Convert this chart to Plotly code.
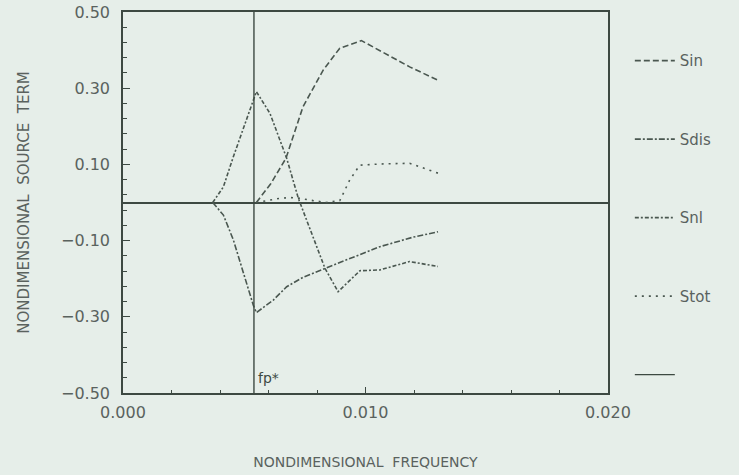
import plotly.graph_objects as go

# Nondimensional source terms vs nondimensional frequency
fp = 0.0054

sin_f = [0.0055, 0.0061, 0.00672, 0.00742, 0.00826, 0.00894, 0.00983, 0.01182, 0.01299]
sin_v = [0.000, 0.050, 0.116, 0.251, 0.348, 0.405, 0.425, 0.356, 0.321]

sdis_f = [0.0037, 0.00414, 0.00455, 0.00496, 0.00537, 0.0055, 0.0062, 0.00675, 0.00743, 0.00833, 0.01059, 0.01196, 0.01299]
sdis_v = [0.000, -0.033, -0.098, -0.186, -0.269, -0.289, -0.256, -0.221, -0.196, -0.173, -0.116, -0.091, -0.077]

snl_f = [0.0037, 0.00414, 0.00455, 0.00503, 0.0055, 0.00606, 0.00675, 0.00723, 0.00833, 0.00887, 0.00977, 0.01059, 0.01182, 0.01299]
snl_v = [0.000, 0.041, 0.120, 0.208, 0.291, 0.234, 0.116, 0.011, -0.173, -0.234, -0.179, -0.177, -0.155, -0.168]

stot_f = [0.0055, 0.00647, 0.00688, 0.00729, 0.00784, 0.00839, 0.00894, 0.00935, 0.00976, 0.01059, 0.01182, 0.01299]
stot_v = [0.000, 0.011, 0.013, 0.011, 0.005, 0.000, 0.005, 0.059, 0.098, 0.101, 0.103, 0.077]

x_ticks = [0.0, 0.010, 0.020]
x_tick_text = ["0.000", "0.010", "0.020"]
y_ticks = [-0.5, -0.3, -0.1, 0.1, 0.3, 0.5]
y_tick_text = ["\u22120.50", "\u22120.30", "\u22120.10", "0.10", "0.30", "0.50"]

BG = "#e6eee9"
INK = "#4a5750"
AXIS = "#3d4942"
TEXT = "#5a625e"
FONT = "DejaVu Sans"
SP = "\u00a0\u00a0"

fig = go.Figure()

series = [
    ("Sin", sin_f, sin_v, "6px,3px"),
    ("Sdis", sdis_f, sdis_v, "6px,2px,2px,2px"),
    ("Snl", snl_f, snl_v, "4px,2px,2px,2px"),
    ("Stot", stot_f, stot_v, "2px,5px"),
]
for name, f, v, dash in series:
    fig.add_trace(go.Scatter(
        x=f, y=v, name=name, mode="lines",
        line=dict(color=INK, width=1.6, dash=dash),
        legendgroup=name,
    ))

# peak frequency marker line
fig.add_trace(go.Scatter(
    x=[fp, fp], y=[-0.5, 0.5], name="", mode="lines",
    line=dict(color=AXIS, width=1.4), legendgroup="fp",
))

fig.add_annotation(
    x=fp, y=-0.5, xref="x", yref="y", text="fp*", showarrow=False,
    xanchor="left", yanchor="bottom", xshift=2, yshift=5,
    font=dict(family=FONT, size=14, color=AXIS),
)

fig.update_layout(
    width=739, height=475,
    margin=dict(l=123, r=131, t=12, b=82, autoexpand=False),
    paper_bgcolor=BG, plot_bgcolor=BG,
    font=dict(family=FONT, color=TEXT, size=14),
    legend=dict(
        x=1.045, y=0.915, xanchor="left", yanchor="top",
        bgcolor="rgba(0,0,0,0)", tracegroupgap=56,
        traceorder="grouped", itemwidth=40,
        font=dict(family=FONT, size=15, color=TEXT),
    ),
    xaxis=dict(
        range=[0, 0.020], tickvals=x_ticks, ticktext=x_tick_text,
        ticks="inside", ticklen=6, tickcolor=AXIS, tickwidth=1.2,
        minor=dict(dtick=0.002, tick0=0, ticks="inside", ticklen=3, tickcolor=AXIS),
        showline=True, linecolor=AXIS, linewidth=1.5, mirror=True,
        showgrid=False, zeroline=False, automargin=False,
        ticklabelstandoff=4,
        title=dict(text="NONDIMENSIONAL" + SP + "FREQUENCY", standoff=36,
                   font=dict(family=FONT, size=14, color=TEXT)),
        tickfont=dict(family=FONT, size=16, color=TEXT),
    ),
    yaxis=dict(
        range=[-0.5, 0.5], tickvals=y_ticks, ticktext=y_tick_text,
        ticks="inside", ticklen=7, tickcolor=AXIS, tickwidth=1.2,
        minor=dict(dtick=0.04, tick0=0.5, ticks="inside", ticklen=4, tickcolor=AXIS),
        showline=True, linecolor=AXIS, linewidth=1.5, mirror=True,
        showgrid=False, zeroline=True, zerolinecolor=AXIS, zerolinewidth=1.5,
        automargin=False, ticklabelstandoff=8,
        title=dict(text="NONDIMENSIONAL" + SP + "SOURCE" + SP + "TERM", standoff=28,
                   font=dict(family=FONT, size=15, color=TEXT)),
        tickfont=dict(family=FONT, size=16, color=TEXT),
    ),
)

fig.write_html("out.html")
